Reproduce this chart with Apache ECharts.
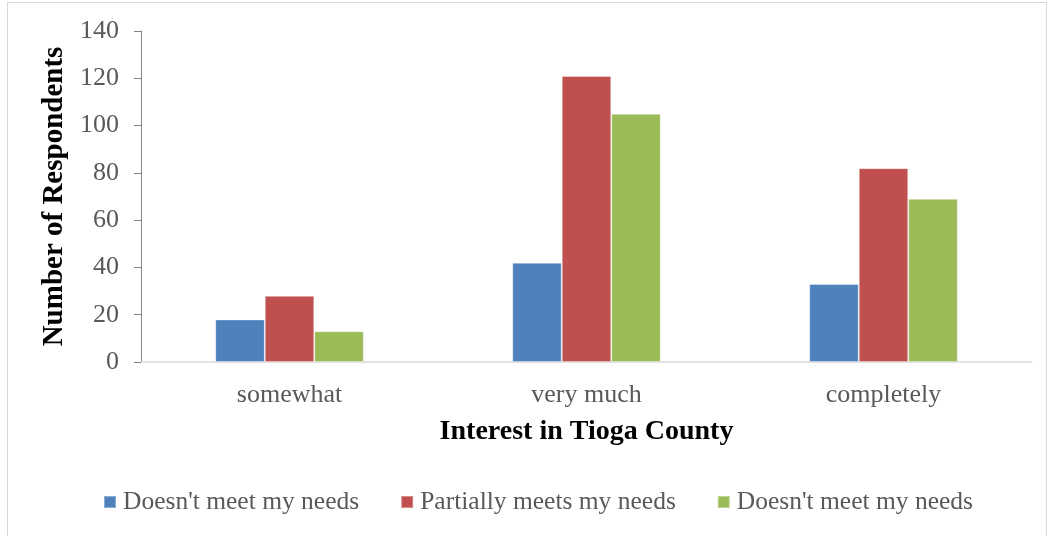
<!DOCTYPE html>
<html>
<head>
<meta charset="utf-8">
<script src="https://cdn.jsdelivr.net/npm/echarts@6/dist/echarts.min.js"></script>
<style>
  html, body { margin: 0; padding: 0; background: #fff; }
  #frame { position: absolute; left: 7px; top: 2px; width: 1040px; height: 540px; border: 1px solid #d9d9d9; box-sizing: border-box; }
  #main { width: 1049px; height: 536px; }
</style>
</head>
<body>
<div id="frame"></div>
<div id="main"></div>
<script>
const categories = ['somewhat', 'very much', 'completely']
const seriesNames = ["Doesn't meet my needs", 'Partially meets my needs', "Doesn't meet my needs "]
const notMeet = [18, 42, 33]
const partially = [28, 121, 82]
const notMeet2 = [13, 105, 69]
const colors = ['#4f81bd', '#c0504d', '#9bbb59']

const font = "'Liberation Serif', 'DejaVu Serif', serif"
const myChart = echarts.init(document.getElementById('main'))

const mkSeries = (name, data, color) => ({
  name: name,
  type: 'bar',
  barGap: '0%',
  barCategoryGap: '50%',
  itemStyle: { color: color, borderColor: 'rgba(255,255,255,0.35)', borderWidth: 1 },
  data: data
})

const option = {
  animation: false,
  textStyle: { fontFamily: font },
  grid: { left: 141, top: 31, right: 17, bottom: 174 },
  legend: {
    top: 489,
    left: 103,
    padding: 0,
    itemWidth: 12,
    itemHeight: 12,
    itemGap: 41,
    icon: 'rect',
    textStyle: { fontSize: 25.5, color: '#595959', fontFamily: font, padding: [0, 0, 0, 2] },
    data: seriesNames
  },
  xAxis: {
    type: 'category',
    data: categories,
    name: 'Interest in Tioga County',
    nameLocation: 'center',
    nameGap: 56,
    nameTextStyle: { fontSize: 28, fontWeight: 'bold', color: '#000', fontFamily: font },
    axisLine: { lineStyle: { color: '#d9d9d9', width: 1.5 } },
    axisTick: { show: false },
    axisLabel: { fontSize: 26, color: '#595959', margin: 20 }
  },
  yAxis: {
    type: 'value',
    min: 0,
    max: 140,
    interval: 20,
    name: 'Number of Respondents',
    nameLocation: 'center',
    nameGap: 68,
    nameTextStyle: { fontSize: 29, fontWeight: 'bold', color: '#000', fontFamily: font },
    axisLine: { show: true, lineStyle: { color: '#868686' } },
    axisTick: { show: true, length: 7, lineStyle: { color: '#868686' } },
    splitLine: { show: false },
    axisLabel: { fontSize: 26, color: '#595959', margin: 22 }
  },
  series: [
    mkSeries(seriesNames[0], notMeet, colors[0]),
    mkSeries(seriesNames[1], partially, colors[1]),
    mkSeries(seriesNames[2], notMeet2, colors[2])
  ]
}
myChart.setOption(option)
</script>
</body>
</html>
